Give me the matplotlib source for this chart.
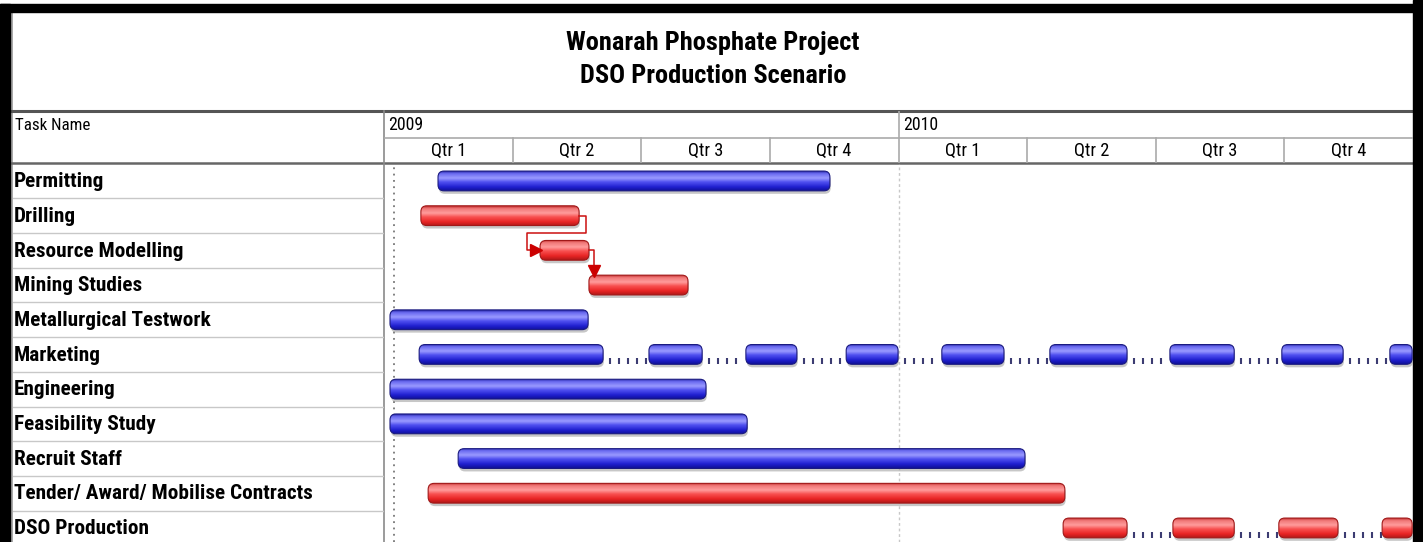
import numpy as np
import matplotlib
matplotlib.use("Agg")
import matplotlib.pyplot as plt
from matplotlib.patches import FancyBboxPatch, Rectangle
from matplotlib.colors import LinearSegmentedColormap

# ---------------- data (months from 1 Jan 2009) ----------------
tasks = ["Permitting", "Drilling", "Resource Modelling", "Mining Studies",
         "Metallurgical Testwork", "Marketing", "Engineering", "Feasibility Study",
         "Recruit Staff", "Tender/ Award/ Mobilise Contracts", "DSO Production"]
bar_kind = ["blue", "red", "red", "red", "blue", "blue", "blue", "blue", "blue", "red", "red"]
segments = [
    [(1.26, 10.40)],
    [(0.86, 4.55)],
    [(3.64, 4.78)],
    [(4.78, 7.09)],
    [(0.14, 4.76)],
    [(0.82, 5.11), (6.18, 7.42), (8.44, 9.63), (10.78, 11.99), (13.01, 14.46),
     (15.53, 17.33), (18.33, 19.83), (20.94, 22.37), (23.46, 23.98)],
    [(0.14, 7.51)],
    [(0.14, 8.47)],
    [(1.73, 14.95)],
    [(1.03, 15.88)],
    [(15.84, 17.33), (18.40, 19.83), (20.87, 22.25), (23.28, 23.98)],
]
links = [(1, 2, "side"), (2, 3, "top")]   # (from task, to task, entry)
years = ["2009", "2010"]
quarters = ["Qtr 1", "Qtr 2", "Qtr 3", "Qtr 4"]
title_lines = ["Wonarah Phosphate Project", "DSO Production Scenario"]
start_marker = 0.23

# ---------------- layout ----------------
W, H = 1423, 542
fig = plt.figure(figsize=(W / 100, H / 100), dpi=100)
fig.patch.set_facecolor("white")

def rect(x0, y0, x1, y1):
    return [x0 / W, 1 - y1 / H, (x1 - x0) / W, (y1 - y0) / H]

NARROW = ["Roboto Condensed", "DejaVu Sans Condensed", "Liberation Sans"]
row_px = 34.7
n_months = 24
px_month = (1413 - 384) / n_months
y_bottom = -0.5 + (H - 163.6) / row_px

# frame / title axes in pixel coords
bg = fig.add_axes([0, 0, 1, 1])
bg.set_xlim(0, W)
bg.set_ylim(H, 0)
bg.axis("off")
bg.add_patch(Rectangle((0, 4), W, 8, color="black", zorder=5))
bg.add_patch(Rectangle((0, 4), 10, H, color="black", zorder=5))
bg.add_patch(Rectangle((1413, 0), 10, H, color="black", zorder=5))
bg.plot([12, 12], [12, H], color="#9a9a9a", lw=1.2)
bg.plot([12, 1413], [111, 111], color="#555555", lw=2.2)
bg.plot([12, 1413], [163, 163], color="#666666", lw=1.8)
bg.plot([384, 384], [111, H], color="#8a8a8a", lw=1.2)
bg.text(713, 43, title_lines[0], ha="center", va="center", fontsize=19,
        fontweight="bold", family=NARROW)
bg.text(713, 76, title_lines[1], ha="center", va="center", fontsize=19,
        fontweight="bold", family=NARROW)
bg.text(15, 126, "Task Name", ha="left", va="center", fontsize=12.2, family=NARROW)

# task name column
tab = fig.add_axes(rect(13, 163.6, 384, H))
tab.set_xlim(0, 1)
tab.set_ylim(y_bottom, -0.5)
tab.axis("off")
for i, name in enumerate(tasks):
    tab.text(0.003, i + 0.02, name, ha="left", va="center", fontsize=15.3,
             fontweight="bold", family=NARROW)
    if i < len(tasks) - 1:
        tab.axhline(i + 0.5, color="#c8c8c8", lw=1.0)

# time-scale header
hdr = fig.add_axes(rect(384, 111, 1413, 163))
hdr.set_xlim(0, n_months)
hdr.set_ylim(1, 0)
hdr.axis("off")
hdr.axhline(0.52, color="#aaaaaa", lw=1.2)
for yi, yr in enumerate(years):
    hdr.text(yi * 12 + 0.1, 0.27, yr, ha="left", va="center", fontsize=12.8, family=NARROW)
    if yi > 0:
        hdr.plot([yi * 12, yi * 12], [0, 1], color="#aaaaaa", lw=1.2)
    for qi, q in enumerate(quarters):
        q0 = yi * 12 + qi * 3
        hdr.text(q0 + 1.5, 0.76, q, ha="center", va="center", fontsize=13.2, family=NARROW)
        if qi > 0:
            hdr.plot([q0, q0], [0.52, 1], color="#aaaaaa", lw=1.2)

# gantt area
ax = fig.add_axes(rect(384, 163.6, 1413, H))
ax.set_xlim(0, n_months)
ax.set_ylim(y_bottom, -0.5)
ax.axis("off")

ax.axvline(start_marker, color="#777777", lw=1.3, ls=(0, (1, 2.5)), zorder=1)
ax.axvline(12, color="#c8c8c8", lw=1.0, ls=(0, (2, 2)), zorder=1)

cmaps = {
    "blue": LinearSegmentedColormap.from_list("b", [
        (0.0, "#2828a8"), (0.12, "#6a6af0"), (0.35, "#9a9aff"), (0.55, "#5050f0"),
        (0.8, "#2020d0"), (1.0, "#10109a")]),
    "red": LinearSegmentedColormap.from_list("r", [
        (0.0, "#c43030"), (0.12, "#f07878"), (0.35, "#ff9c9c"), (0.55, "#f85050"),
        (0.8, "#e82424"), (1.0, "#b01818")]),
}
edge_col = {"blue": "#1a1a80", "red": "#a01818"}
grad = np.linspace(0, 1, 64).reshape(-1, 1)

bar_h = 0.57
rad_px = 6.0
r = rad_px / px_month
asp = px_month / row_px
shadow_dy = 3.0 / row_px

for i, segs in enumerate(segments):
    kind = bar_kind[i]
    for s, e in segs:
        sh = FancyBboxPatch((s + 0.02, i - bar_h / 2 + shadow_dy), e - s, bar_h,
                            boxstyle=f"round,pad=0,rounding_size={r}", mutation_aspect=asp,
                            fc="#9a9a9a", ec="none", alpha=0.55, zorder=2)
        ax.add_patch(sh)
        p = FancyBboxPatch((s, i - bar_h / 2), e - s, bar_h,
                           boxstyle=f"round,pad=0,rounding_size={r}", mutation_aspect=asp,
                           fc="none", ec=edge_col[kind], lw=0.8, zorder=4)
        ax.add_patch(p)
        im = ax.imshow(grad, extent=[s, e, i + bar_h / 2, i - bar_h / 2], origin="upper",
                       aspect="auto", cmap=cmaps[kind], interpolation="bilinear", zorder=3)
        im.set_clip_path(p)
    # dotted split connectors
    for (s0, e0), (s1, e1) in zip(segs[:-1], segs[1:]):
        xs = np.arange(e0 + 0.16, s1 - 0.02, 0.21)
        ax.plot(xs, np.full_like(xs, i + 0.2), ls="none", marker="|", ms=4.8,
                mew=1.5, color="#3c3c72", zorder=2)

# dependency links
for a, b, entry in links:
    a_end = segments[a][-1][1]
    b_start = segments[b][0][0]
    if entry == "side":
        xs = [a_end, a_end + 0.15, a_end + 0.15, b_start - 0.3, b_start - 0.3, b_start - 0.1]
        ys = [a, a, a + 0.5, a + 0.5, b, b]
        ax.plot(xs, ys, color="#cc1010", lw=1.1, zorder=5, solid_joinstyle="round")
        ax.plot(b_start - 0.1, b, marker=">", ms=8, color="#cc0000", zorder=6)
    else:
        xs = [a_end, a_end + 0.12, a_end + 0.12]
        ys = [a, a, b - 0.42]
        ax.plot(xs, ys, color="#cc1010", lw=1.1, zorder=5, solid_joinstyle="round")
        ax.plot(a_end + 0.12, b - 0.4, marker="v", ms=8, color="#cc0000", zorder=6)

ax.set_xlim(0, n_months)
ax.set_ylim(y_bottom, -0.5)

fig.savefig("out.png", dpi=100)
